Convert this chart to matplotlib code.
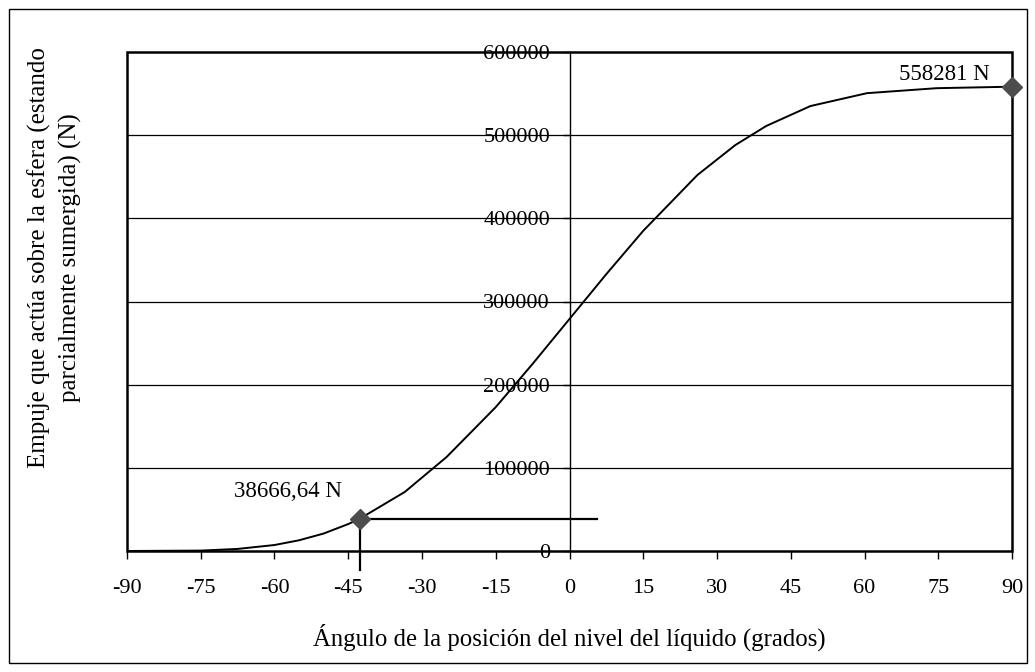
import matplotlib
matplotlib.use('Agg')
import matplotlib.pyplot as plt
from matplotlib.patches import Rectangle

plt.rcParams['font.family'] = ['Liberation Serif', 'DejaVu Serif']
plt.rcParams['font.size'] = 16

# Data (angle in degrees, thrust in N)
angles = [-90, -75, -67.5, -60, -55, -50, -45, -42.7, -33.5, -25, -15, -7.5,
          0, 7.5, 15, 26, 33.7, 40, 49, 60.5, 74.7, 90]
thrust = [0, 500, 2500, 7200, 12900, 21000, 32400, 38666.64, 71000, 113000,
          173000, 225000, 279000, 333000, 385000, 452000, 488000, 511000,
          535000, 550500, 556500, 558281]

marker_x = [-42.7, 90]
marker_y = [38666.64, 558281]
marker_labels = ['38666,64 N', '558281 N']
drop_end_x = 5.6

x_ticks = list(range(-90, 91, 15))
y_ticks = list(range(0, 600001, 100000))

fig = plt.figure(figsize=(10.35, 6.72), dpi=100)
ax = fig.add_axes([127/1035, 1 - 551/672, 885/1035, 499/672])

ax.set_xlim(-90, 90)
ax.set_ylim(0, 600000)

# grid lines
for yv in y_ticks[1:-1]:
    ax.axhline(yv, color='black', lw=0.9, zorder=1)

# curve
ax.plot(angles, thrust, color='black', lw=1.4, zorder=3)

# drop lines for the first marker
ax.plot([marker_x[0], drop_end_x], [marker_y[0], marker_y[0]], color='black', lw=1.6, zorder=3)
ax.plot([marker_x[0], marker_x[0]], [marker_y[0], -23000], color='black', lw=1.6,
        zorder=3, clip_on=False)

ax.plot(marker_x, marker_y, linestyle='none', marker='D', markersize=10,
        color='#4d4d4d', zorder=5, clip_on=False)

ax.text(-57.2, 72100, marker_labels[0], ha='center', va='center', fontsize=16.5)
ax.text(85.5, 573500, marker_labels[1], ha='right', va='center', fontsize=16.5)

# axes: y axis crosses at x = 0
for s in ['top', 'right', 'bottom']:
    ax.spines[s].set_visible(False)
ax.spines['left'].set_position(('data', 0))
ax.spines['left'].set_linewidth(1.0)
ax.add_patch(Rectangle((0, 0), 1, 1, transform=ax.transAxes, fill=False,
                       lw=1.8, edgecolor='black', clip_on=False, zorder=4))

ax.set_xticks(x_ticks)
ax.set_xticklabels([str(v) for v in x_ticks])
ax.set_yticks(y_ticks)
ax.set_yticklabels([str(v) for v in y_ticks])
ax.tick_params(axis='x', direction='out', length=6, width=1, pad=14)
ax.tick_params(axis='y', direction='out', length=5, width=1, pad=9)

fig.text(569.5/1035, 1 - 637/672, 'Ángulo de la posición del nivel del líquido (grados)',
         ha='center', va='center', fontsize=17.8)
fig.text(55/1035, 1 - 258/672,
         'Empuje que actúa sobre la esfera (estando\nparcialmente sumergida) (N)',
         ha='center', va='center', rotation=90, linespacing=1.45, fontsize=18)

fig.patches.append(Rectangle((9/1035, 9/672), 1018/1035, 654/672,
                             transform=fig.transFigure, fill=False, lw=1,
                             edgecolor='black'))

fig.savefig('out.png', dpi=100, facecolor='white')
